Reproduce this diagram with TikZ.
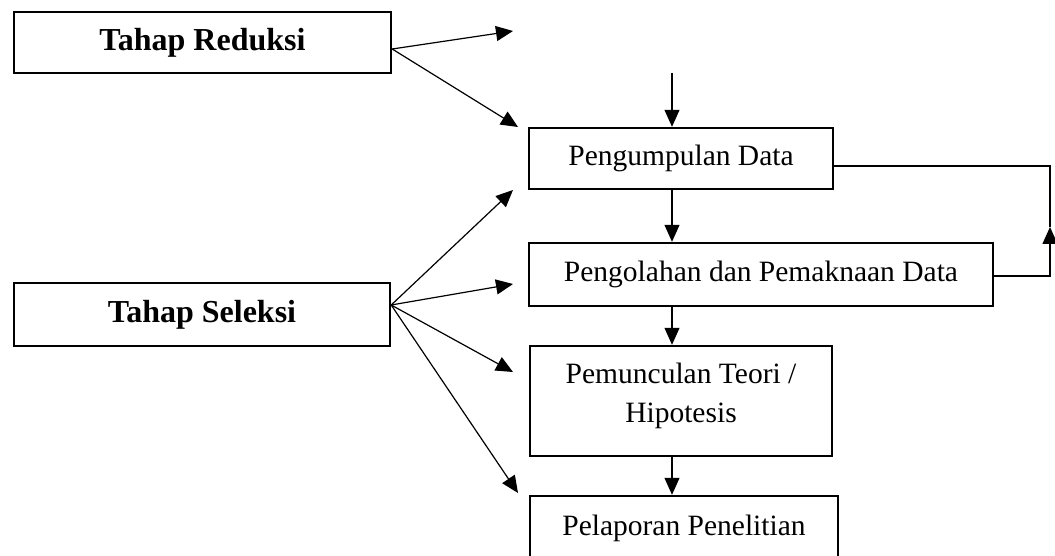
\documentclass[tikz,border=0pt]{standalone}
\usepackage{fontspec}
\setmainfont{Liberation Serif}
\usetikzlibrary{arrows.meta,calc}
\begin{document}
\begin{tikzpicture}[x=1pt,y=-1pt,
  box/.style={draw, line width=2.4pt, rectangle, inner sep=0pt, align=center},
  boldtxt/.style={font=\fontsize{32}{38}\selectfont\bfseries},
  regtxt/.style={font=\fontsize{29.5}{39}\selectfont},
  arr/.style={line width=1.2pt, -{Triangle[length=17pt,width=15pt]}},
  plain/.style={line width=1.2pt}]
\useasboundingbox (0,0) rectangle (1055,556);
\clip (0,0) rectangle (1055,556);

% boxes
\node[box,boldtxt,minimum width=377pt,minimum height=61pt] (red) at (202.5,42.5) {Tahap Reduksi};
\node[box,boldtxt,minimum width=376pt,minimum height=63pt] (sel) at (202,314.5) {Tahap Seleksi};
\node[box,regtxt,minimum width=304pt,minimum height=61pt] (peng) at (681,158.5) {Pengumpulan Data};
\node[box,regtxt,minimum width=464pt,minimum height=63pt] (olah) at (761,274.5) {Pengolahan dan Pemaknaan Data};
\node[box,minimum width=302pt,minimum height=110pt] (mun) at (681,401) {};
\node[regtxt,align=center,inner sep=0pt] (munt) at (681,396) {Pemunculan Teori /\\Hipotesis};
\node[box,regtxt,minimum width=308pt,minimum height=64pt] (lap) at (684,528) {Pelaporan Penelitian};

% main column
\coordinate (colx) at (672,0);
\coordinate (topin) at (672,73);
\draw[arr] (topin) -- (peng.north -| topin);
\draw[arr] (peng.south -| colx) -- (olah.north -| colx);
\draw[arr] (olah.south -| colx) -- (mun.north -| colx);
\draw[arr] (mun.south -| colx) -- (lap.north -| colx);

% Tahap Reduksi arrows
\coordinate (ro) at (red.east |- 0,49);
\coordinate (r1) at (513,31);
\coordinate (r2) at (518,127);
\draw[arr] (ro) -- (r1);
\draw[arr] (ro) -- (r2);

% Tahap Seleksi arrows
\coordinate (so) at (sel.east |- 0,305);
\coordinate (s1) at (513,190);
\coordinate (s2) at (513,284);
\coordinate (s3) at (513,372);
\coordinate (s4) at (518,493);
\draw[arr] (so) -- (s1);
\draw[arr] (so) -- (s2);
\draw[arr] (so) -- (s3);
\draw[arr] (so) -- (s4);

% feedback loop
\coordinate (fb1) at (1050,166);
\coordinate (fb2) at (1050,276);
\coordinate (fbt) at (1050,227);
\draw[plain] (peng.east |- fb1) -- (fb1) -- (fbt);
\draw[arr] (olah.east |- fb2) -- (fb2) -- (fbt);
\end{tikzpicture}
\end{document}
